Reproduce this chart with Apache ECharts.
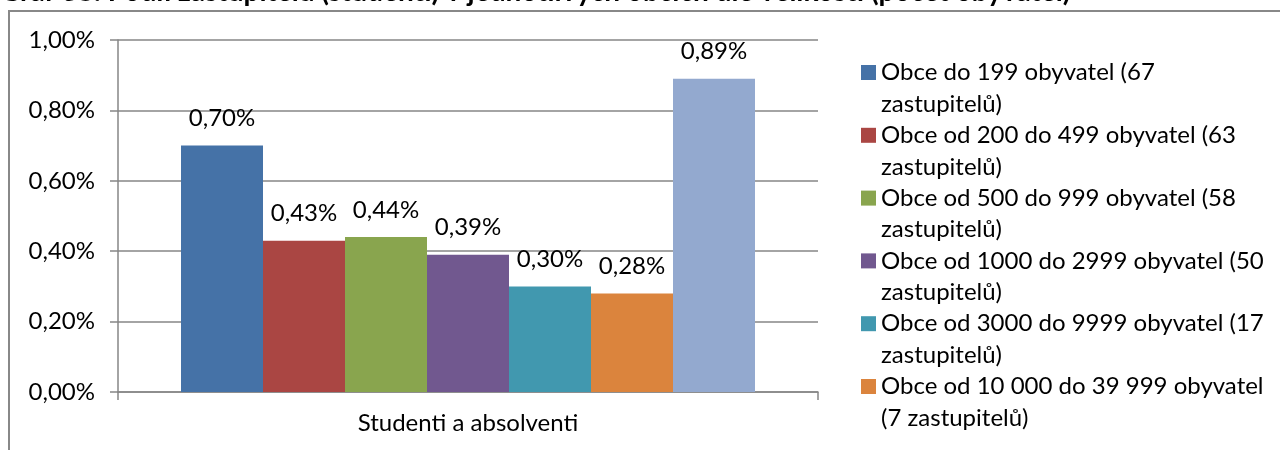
<!DOCTYPE html>
<html>
<head>
<meta charset="utf-8">
<script src="https://cdn.jsdelivr.net/npm/echarts@6/dist/echarts.min.js"></script>
<style>
html,body{margin:0;padding:0;background:#fff;}
#chart{width:1280px;height:450px;}
</style>
</head>
<body>
<div id="chart"></div>
<script>
const titleText = 'Graf 38: Podíl zastupitelů (studenti) v jednotlivých obcích dle velikosti (počet obyvatel)';
const categories = ['Studenti a absolventi'];
const seriesNames = [
  'Obce do 199 obyvatel (67 zastupitelů)',
  'Obce od 200 do 499 obyvatel (63 zastupitelů)',
  'Obce od 500 do 999 obyvatel (58 zastupitelů)',
  'Obce od 1000 do 2999 obyvatel (50 zastupitelů)',
  'Obce od 3000 do 9999 obyvatel (17 zastupitelů)',
  'Obce od 10 000 do 39 999 obyvatel (7 zastupitelů)',
  'Obce nad 40 000 obyvatel'
];
const legendLines = [
  ['Obce do 199 obyvatel (67', 'zastupitelů)'],
  ['Obce od 200 do 499 obyvatel (63', 'zastupitelů)'],
  ['Obce od 500 do 999 obyvatel (58', 'zastupitelů)'],
  ['Obce od 1000 do 2999 obyvatel (50', 'zastupitelů)'],
  ['Obce od 3000 do 9999 obyvatel (17', 'zastupitelů)'],
  ['Obce od 10 000 do 39 999 obyvatel', '(7 zastupitelů)']
];
const values = [0.70, 0.43, 0.44, 0.39, 0.30, 0.28, 0.89];
const colors = ['#4572A7', '#AA4643', '#89A54E', '#71588F', '#4198AF', '#DB843D', '#93A9CF'];
const yTicks = [0, 0.2, 0.4, 0.6, 0.8, 1.0];

const FONT = 'Lato';
const FS = 24;
const LH = 31.5;
const fmtPct = v => v.toFixed(2).replace('.', ',') + '%';

const chart = echarts.init(document.getElementById('chart'));
chart.setOption({
  animation: false,
  textStyle: {fontFamily: FONT, color: '#000'},
  title: {
    text: titleText,
    left: 0,
    top: -22,
    padding: 0,
    textStyle: {fontFamily: FONT, fontWeight: 'bold', fontSize: 28, color: '#000'}
  },
  graphic: [{
    type: 'rect',
    shape: {x: 9, y: 11, width: 1400, height: 600},
    style: {fill: 'none', stroke: '#888', lineWidth: 2},
    silent: true
  }],
  grid: {left: 118, right: 462, top: 40, bottom: 58, containLabel: false},
  xAxis: {
    type: 'category',
    data: categories,
    axisLine: {lineStyle: {color: '#868686', width: 1.5}},
    axisTick: {show: true, length: 8, lineStyle: {color: '#868686', width: 1.5}},
    axisLabel: {fontFamily: FONT, fontSize: FS, color: '#000', margin: 19}
  },
  yAxis: {
    type: 'value',
    min: yTicks[0],
    max: yTicks[yTicks.length - 1],
    interval: 0.2,
    axisLine: {show: true, lineStyle: {color: '#868686', width: 1.5}},
    axisTick: {show: true, inside: false, length: 8, lineStyle: {color: '#868686', width: 1.5}},
    splitLine: {show: true, lineStyle: {color: '#868686', width: 1.5}},
    axisLabel: {fontFamily: FONT, fontSize: FS, color: '#000', margin: 23, formatter: v => fmtPct(v)}
  },
  legend: {
    orient: 'vertical',
    left: 861,
    top: 29,
    padding: 0,
    itemWidth: 15,
    itemHeight: 15,
    itemGap: -24.2,
    icon: 'rect',
    data: seriesNames.slice(0, 6),
    formatter: name => {
      const l = legendLines[seriesNames.indexOf(name)];
      return '{e| }\n{t|' + l[0] + '}\n{t|' + l[1] + '}';
    },
    textStyle: {
      fontFamily: FONT, fontSize: FS, color: '#000',
      rich: {
        e: {fontFamily: FONT, fontSize: FS, lineHeight: LH},
        t: {fontFamily: FONT, fontSize: FS, color: '#000', lineHeight: LH}
      }
    },
    selectedMode: false
  },
  series: seriesNames.map((n, i) => ({
    name: n,
    type: 'bar',
    data: [values[i]],
    barGap: '0%',
    barCategoryGap: '18%',
    itemStyle: {color: colors[i]},
    label: {
      show: true,
      position: 'top',
      distance: 15,
      fontFamily: FONT,
      fontSize: FS,
      color: '#000',
      formatter: p => fmtPct(p.value)
    }
  }))
});
</script>
</body>
</html>
